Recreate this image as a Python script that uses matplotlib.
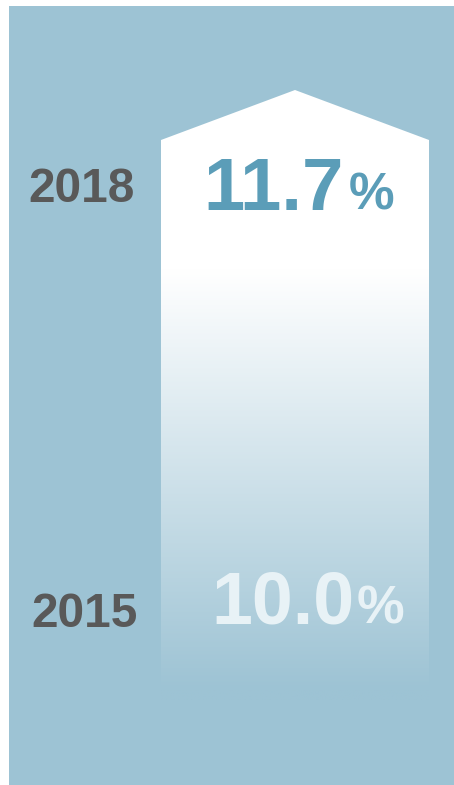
import numpy as np
import matplotlib.pyplot as plt
from matplotlib.patches import Polygon, Rectangle

years = ['2018', '2015']
values = [11.7, 10.0]
value_colors = ['#5b9db8', '#e8f2f6']

BG = '#9dc3d4'
W, H = 454, 785

fig = plt.figure(figsize=(W / 100, H / 100), dpi=100)
fig.patch.set_facecolor('white')
ax = fig.add_axes([0, 0, 1, 1])
ax.set_xlim(0, W)
ax.set_ylim(H, 0)
ax.axis('off')

ax.add_patch(Rectangle((9, 6), W - 9, H - 6, facecolor=BG, edgecolor='none', zorder=0))

# arrow with vertical white -> background gradient
arrow = Polygon([(161, 700), (161, 140), (295, 90), (429, 140), (429, 700)],
                closed=True, facecolor='none', edgecolor='none')
ax.add_patch(arrow)
ys = np.linspace(90, 700, 400)
t = np.clip((ys - 270) / (690 - 270), 0, 1)
bg = np.array([0x9d, 0xc3, 0xd4]) / 255
grad = (1 - t)[:, None] * np.ones(3) + t[:, None] * bg
img = ax.imshow(grad[:, None, :], extent=[161, 429, 700, 90], aspect='auto',
                interpolation='bilinear', zorder=1)
img.set_clip_path(arrow)

font = 'Liberation Sans'
baselines = [210, 623]
year_baselines = [202, 627]
year_x = [82, 85]
num_sizes = [53.5, 53]
pct_sizes = [37, 38.5]
num_x = [203, 211]
pct_gap = [5, 3]

fig.canvas.draw()
r = fig.canvas.get_renderer()
for i, (yr, v) in enumerate(zip(years, values)):
    ax.text(year_x[i], year_baselines[i], yr, fontsize=34.5, fontweight='bold', family=font,
            color='#595959', ha='center', va='baseline', zorder=3)
    t_num = ax.text(num_x[i], baselines[i], f'{v:.1f}', fontsize=num_sizes[i],
                    fontweight='bold', family=font, color=value_colors[i],
                    ha='left', va='baseline', zorder=3)
    bb = t_num.get_window_extent(renderer=r)
    x_end = ax.transData.inverted().transform((bb.x1, 0))[0]
    ax.text(x_end + pct_gap[i], baselines[i], '%', fontsize=pct_sizes[i], fontweight='bold',
            family=font, color=value_colors[i], ha='left', va='baseline', zorder=3)

fig.savefig('out.png', dpi=100)
